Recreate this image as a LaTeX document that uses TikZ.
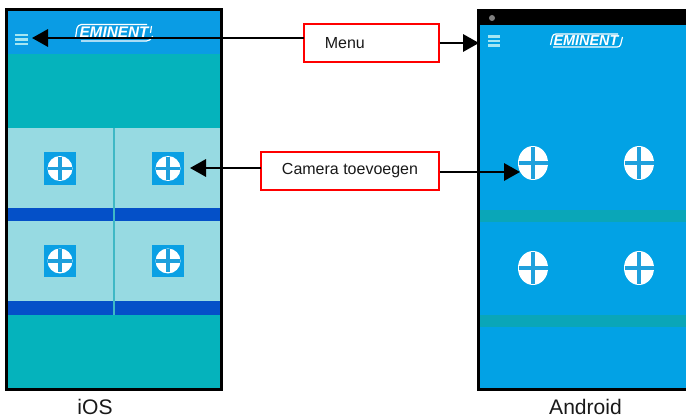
\documentclass[tikz,border=0pt]{standalone}
\usepackage{fontspec}
\setmainfont{Liberation Sans}
\usetikzlibrary{arrows.meta}
\definecolor{skyb}{HTML}{0A9CE4}
\definecolor{andb}{HTML}{02A2E5}
\definecolor{tealb}{HTML}{05B3BC}
\definecolor{tileb}{HTML}{97DAE2}
\definecolor{deepb}{HTML}{0450C8}
\definecolor{divb}{HTML}{3FB8C5}
\definecolor{bandb}{HTML}{0AA6B8}
\definecolor{iconb}{HTML}{0AA0E4}
\definecolor{burger}{HTML}{A5E6F2}
\definecolor{plusb}{HTML}{1FA0DC}
\definecolor{redbox}{HTML}{FF0000}
\tikzset{
  labelbox/.style={draw=redbox,line width=1.3pt,fill=white,minimum height=29pt,inner sep=0pt,font=\fontsize{12}{14}\selectfont,text=black!90},
  conn/.style={line width=1.7pt,draw=black},
  connarrow/.style={conn,-{Triangle[length=12pt,width=13pt]}},
  caption/.style={inner sep=0pt,font=\fontsize{15.8}{18}\selectfont,text=black!90},
  frameline/.style={draw=black,line width=2.3pt},
  iossq/.style={fill=iconb,draw=none,minimum size=24.5pt,inner sep=0pt},
  burgerline/.style={draw=burger,line width=1.7pt},
  logotext/.style={inner sep=0pt,text=white,font=\bfseries\itshape\fontsize{11.5}{12}\selectfont},
  logoframe/.style={draw=white,line width=.9pt,rounded corners=3pt}
}
\newcommand{\plusmark}[5]{% x y rx ry colour
  \fill[white] (#1,#2) ellipse [x radius=#3,y radius=#4];
  \draw[#5,line width=2.3pt] (#1-#3+.5,#2) -- (#1+#3-.5,#2) (#1,#2-#4+1) -- (#1,#2+#4-1);
}
\begin{document}
\begin{tikzpicture}[x=0.75pt,y=-0.75pt]
\useasboundingbox (0,0) rectangle (686,417);
% iOS screen
\fill[tealb] (6,10) rectangle (221,389);
\fill[skyb] (6,10) rectangle (221,54);
\fill[tileb] (6,128) rectangle (221,208);
\fill[tileb] (6,221) rectangle (221,301);
\fill[deepb] (6,208) rectangle (221,221);
\fill[deepb] (6,301) rectangle (221,314.5);
\fill[divb] (112.5,128) rectangle (114.8,314.5);
% iOS icons
\node[iossq] (i1) at (60,168.5) {};
\node[iossq] (i2) at (168,168.5) {};
\node[iossq] (i3) at (60,261) {};
\node[iossq] (i4) at (168,261) {};
\plusmark{60}{168.5}{12.5}{12.5}{plusb}
\plusmark{168}{168.5}{12.5}{12.5}{plusb}
\plusmark{60}{261}{12.5}{12.5}{plusb}
\plusmark{168}{261}{12.5}{12.5}{plusb}
% iOS header
\draw[burgerline] (15,35) -- (28,35) (15,39.5) -- (28,39.5) (15,44) -- (28,44);
\draw[logoframe] (75.5,38) -- (77.5,24.5) -- (147,24.5);
\draw[logoframe] (151.5,26) -- (150.5,33);
\draw[logoframe] (81,41) -- (150.5,41) -- (152.5,36);
\node[logotext] (logoI) at (114,32.5) {EMINENT};
\draw[frameline] (6.2,9.5) rectangle (221.5,389.5);
% Android screen
\fill[andb] (478,25) rectangle (686,389);
\fill[black] (478,9) rectangle (686,25.5);
\fill[black] (477,9) rectangle (480,391);
\fill[black] (477,388) rectangle (686,391);
\fill[bandb] (480,210) rectangle (686,222);
\fill[bandb] (480,315) rectangle (686,327);
\fill[gray] (492,18) circle [radius=3];
\plusmark{533}{163}{15}{17}{plusb}
\plusmark{639}{163}{15}{17}{plusb}
\plusmark{533}{268}{15}{17}{plusb}
\plusmark{639}{268}{15}{17}{plusb}
\draw[burgerline] (488,36.5) -- (500,36.5) (488,41) -- (500,41) (488,45.5) -- (500,45.5);
\draw[logoframe,rounded corners=2pt] (550.5,45) -- (553,34) -- (618,34);
\draw[logoframe,rounded corners=2pt] (553,47) -- (620,47) -- (622.5,37);
\node[logotext,font=\bfseries\itshape\fontsize{10.8}{12}\selectfont] (logoA) at (586,40.5) {EMINENT};
% label boxes
\node[labelbox,minimum width=101pt] (menu) at (371.5,43) {Menu\kern40pt};
\node[labelbox,minimum width=133.5pt] (cam) at (350,171) {Camera toevoegen};
% connector ends
\coordinate (menuOut) at (304,38);
\coordinate (menuTipI) at (32,38);
\coordinate (menuTipA) at (479,43);
\coordinate (camOut) at (261,168);
\coordinate (camTipI) at (190,168);
\coordinate (camTipA) at (520,172);
\draw[connarrow] (menuOut) -- (menuTipI);
\draw[connarrow] (menu.east) -- (menuTipA);
\draw[connarrow] (camOut) -- (camTipI);
\draw[connarrow] (cam.east |- camTipA) -- (camTipA);
% captions
\node[caption] (ios) at (95,406.5) {iOS};
\node[caption] (android) at (585.5,406.5) {Android};
\end{tikzpicture}
\end{document}
